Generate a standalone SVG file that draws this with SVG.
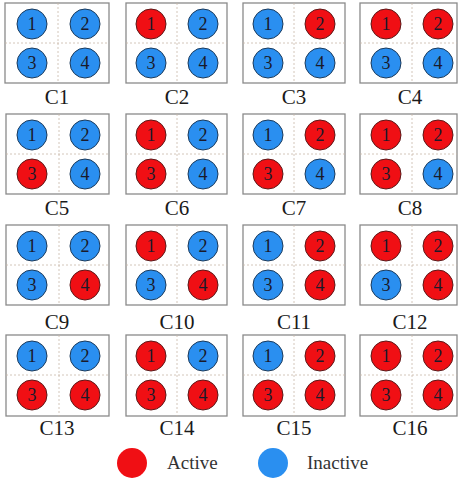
<svg xmlns="http://www.w3.org/2000/svg" width="458" height="479" viewBox="0 0 458 479">
<defs>
<style>
.box{fill:#fff;stroke:#8a8a8a;stroke-width:1.3}
.div{stroke:#c8b8a8;stroke-width:0.8;stroke-dasharray:2 2;fill:none}
.a{fill:#f00f14;stroke:#5a1a1a;stroke-width:1}
.i{fill:#2a8ff0;stroke:#1c3a5a;stroke-width:1}
.n{font-size:18px;fill:#1a1a2a;text-anchor:middle}
.lab{font-size:21px;fill:#1a1a1a;text-anchor:middle}
.leg{font-size:19px;fill:#333}
</style>
</defs>
<rect width="458" height="479" fill="#fff"/>
<g font-family="Liberation Serif, serif">
<g id="C1" transform="translate(5,3)"><rect class="box" x="0" y="0" width="104" height="80"/><path class="div" d="M53 0V80M0 40H104"/><circle class="i" cx="27" cy="21" r="15"/><text class="n" x="27" y="27">1</text><circle class="i" cx="80" cy="21" r="15"/><text class="n" x="80" y="27">2</text><circle class="i" cx="27" cy="60" r="15"/><text class="n" x="27" y="66">3</text><circle class="i" cx="80" cy="60" r="15"/><text class="n" x="80" y="66">4</text><text class="lab" x="52" y="101">C1</text></g>
<g id="C2" transform="translate(126,3)"><rect class="box" x="0" y="0" width="101" height="80"/><path class="div" d="M51 0V80M0 40H101"/><circle class="a" cx="25" cy="21" r="15"/><text class="n" x="25" y="27">1</text><circle class="i" cx="77" cy="21" r="15"/><text class="n" x="77" y="27">2</text><circle class="i" cx="25" cy="60" r="15"/><text class="n" x="25" y="66">3</text><circle class="i" cx="77" cy="60" r="15"/><text class="n" x="77" y="66">4</text><text class="lab" x="51" y="101">C2</text></g>
<g id="C3" transform="translate(243,3)"><rect class="box" x="0" y="0" width="102" height="80"/><path class="div" d="M51 0V80M0 40H102"/><circle class="i" cx="25" cy="21" r="15"/><text class="n" x="25" y="27">1</text><circle class="a" cx="77" cy="21" r="15"/><text class="n" x="77" y="27">2</text><circle class="i" cx="25" cy="60" r="15"/><text class="n" x="25" y="66">3</text><circle class="i" cx="77" cy="60" r="15"/><text class="n" x="77" y="66">4</text><text class="lab" x="51" y="101">C3</text></g>
<g id="C4" transform="translate(360,3)"><rect class="box" x="0" y="0" width="97" height="80"/><path class="div" d="M52 0V80M0 40H97"/><circle class="a" cx="26" cy="21" r="15"/><text class="n" x="26" y="27">1</text><circle class="a" cx="78" cy="21" r="15"/><text class="n" x="78" y="27">2</text><circle class="i" cx="26" cy="60" r="15"/><text class="n" x="26" y="66">3</text><circle class="i" cx="78" cy="60" r="15"/><text class="n" x="78" y="66">4</text><text class="lab" x="50" y="101">C4</text></g>

<g id="C5" transform="translate(6,114)"><rect class="box" x="0" y="0" width="103" height="80"/><path class="div" d="M53 0V80M0 40H103"/><circle class="i" cx="26" cy="21" r="15"/><text class="n" x="26" y="27">1</text><circle class="i" cx="79" cy="21" r="15"/><text class="n" x="79" y="27">2</text><circle class="a" cx="26" cy="60" r="15"/><text class="n" x="26" y="66">3</text><circle class="i" cx="79" cy="60" r="15"/><text class="n" x="79" y="66">4</text><text class="lab" x="51" y="101">C5</text></g>
<g id="C6" transform="translate(126,114)"><rect class="box" x="0" y="0" width="101" height="80"/><path class="div" d="M51 0V80M0 40H101"/><circle class="a" cx="25" cy="21" r="15"/><text class="n" x="25" y="27">1</text><circle class="i" cx="77" cy="21" r="15"/><text class="n" x="77" y="27">2</text><circle class="a" cx="25" cy="60" r="15"/><text class="n" x="25" y="66">3</text><circle class="i" cx="77" cy="60" r="15"/><text class="n" x="77" y="66">4</text><text class="lab" x="51" y="101">C6</text></g>
<g id="C7" transform="translate(243,114)"><rect class="box" x="0" y="0" width="102" height="80"/><path class="div" d="M51 0V80M0 40H102"/><circle class="i" cx="25" cy="21" r="15"/><text class="n" x="25" y="27">1</text><circle class="a" cx="77" cy="21" r="15"/><text class="n" x="77" y="27">2</text><circle class="a" cx="25" cy="60" r="15"/><text class="n" x="25" y="66">3</text><circle class="i" cx="77" cy="60" r="15"/><text class="n" x="77" y="66">4</text><text class="lab" x="51" y="101">C7</text></g>
<g id="C8" transform="translate(360,114)"><rect class="box" x="0" y="0" width="97" height="80"/><path class="div" d="M52 0V80M0 40H97"/><circle class="a" cx="26" cy="21" r="15"/><text class="n" x="26" y="27">1</text><circle class="a" cx="78" cy="21" r="15"/><text class="n" x="78" y="27">2</text><circle class="a" cx="26" cy="60" r="15"/><text class="n" x="26" y="66">3</text><circle class="i" cx="78" cy="60" r="15"/><text class="n" x="78" y="66">4</text><text class="lab" x="50" y="101">C8</text></g>

<g id="C9" transform="translate(6,225)"><rect class="box" x="0" y="0" width="103" height="80"/><path class="div" d="M53 0V80M0 40H103"/><circle class="i" cx="26" cy="21" r="15"/><text class="n" x="26" y="27">1</text><circle class="i" cx="79" cy="21" r="15"/><text class="n" x="79" y="27">2</text><circle class="i" cx="26" cy="60" r="15"/><text class="n" x="26" y="66">3</text><circle class="a" cx="79" cy="60" r="15"/><text class="n" x="79" y="66">4</text><text class="lab" x="51" y="104">C9</text></g>
<g id="C10" transform="translate(126,225)"><rect class="box" x="0" y="0" width="101" height="80"/><path class="div" d="M51 0V80M0 40H101"/><circle class="a" cx="25" cy="21" r="15"/><text class="n" x="25" y="27">1</text><circle class="i" cx="77" cy="21" r="15"/><text class="n" x="77" y="27">2</text><circle class="i" cx="25" cy="60" r="15"/><text class="n" x="25" y="66">3</text><circle class="a" cx="77" cy="60" r="15"/><text class="n" x="77" y="66">4</text><text class="lab" x="51" y="104">C10</text></g>
<g id="C11" transform="translate(243,225)"><rect class="box" x="0" y="0" width="102" height="80"/><path class="div" d="M51 0V80M0 40H102"/><circle class="i" cx="25" cy="21" r="15"/><text class="n" x="25" y="27">1</text><circle class="a" cx="77" cy="21" r="15"/><text class="n" x="77" y="27">2</text><circle class="i" cx="25" cy="60" r="15"/><text class="n" x="25" y="66">3</text><circle class="a" cx="77" cy="60" r="15"/><text class="n" x="77" y="66">4</text><text class="lab" x="51" y="104">C11</text></g>
<g id="C12" transform="translate(360,225)"><rect class="box" x="0" y="0" width="97" height="80"/><path class="div" d="M52 0V80M0 40H97"/><circle class="a" cx="26" cy="21" r="15"/><text class="n" x="26" y="27">1</text><circle class="a" cx="78" cy="21" r="15"/><text class="n" x="78" y="27">2</text><circle class="i" cx="26" cy="60" r="15"/><text class="n" x="26" y="66">3</text><circle class="a" cx="78" cy="60" r="15"/><text class="n" x="78" y="66">4</text><text class="lab" x="50" y="104">C12</text></g>

<g id="C13" transform="translate(6,335)"><rect class="box" x="0" y="0" width="103" height="81"/><path class="div" d="M53 0V81M0 40H103"/><circle class="i" cx="26" cy="21" r="15"/><text class="n" x="26" y="27">1</text><circle class="i" cx="79" cy="21" r="15"/><text class="n" x="79" y="27">2</text><circle class="a" cx="26" cy="60" r="15"/><text class="n" x="26" y="66">3</text><circle class="a" cx="79" cy="60" r="15"/><text class="n" x="79" y="66">4</text><text class="lab" x="51" y="100">C13</text></g>
<g id="C14" transform="translate(126,335)"><rect class="box" x="0" y="0" width="101" height="81"/><path class="div" d="M51 0V81M0 40H101"/><circle class="a" cx="25" cy="21" r="15"/><text class="n" x="25" y="27">1</text><circle class="i" cx="77" cy="21" r="15"/><text class="n" x="77" y="27">2</text><circle class="a" cx="25" cy="60" r="15"/><text class="n" x="25" y="66">3</text><circle class="a" cx="77" cy="60" r="15"/><text class="n" x="77" y="66">4</text><text class="lab" x="51" y="100">C14</text></g>
<g id="C15" transform="translate(243,335)"><rect class="box" x="0" y="0" width="102" height="81"/><path class="div" d="M51 0V81M0 40H102"/><circle class="i" cx="25" cy="21" r="15"/><text class="n" x="25" y="27">1</text><circle class="a" cx="77" cy="21" r="15"/><text class="n" x="77" y="27">2</text><circle class="a" cx="25" cy="60" r="15"/><text class="n" x="25" y="66">3</text><circle class="a" cx="77" cy="60" r="15"/><text class="n" x="77" y="66">4</text><text class="lab" x="51" y="100">C15</text></g>
<g id="C16" transform="translate(360,335)"><rect class="box" x="0" y="0" width="97" height="81"/><path class="div" d="M52 0V81M0 40H97"/><circle class="a" cx="26" cy="21" r="15"/><text class="n" x="26" y="27">1</text><circle class="a" cx="78" cy="21" r="15"/><text class="n" x="78" y="27">2</text><circle class="a" cx="26" cy="60" r="15"/><text class="n" x="26" y="66">3</text><circle class="a" cx="78" cy="60" r="15"/><text class="n" x="78" y="66">4</text><text class="lab" x="50" y="100">C16</text></g>

<g id="legend">
<circle cx="132" cy="463" r="15" fill="#f00f14"/>
<text class="leg" x="167" y="469">Active</text>
<circle cx="273" cy="463" r="15" fill="#2a8ff0"/>
<text class="leg" x="307" y="469">Inactive</text>
</g>
</g>
<g id="connectors"/>
</svg>
